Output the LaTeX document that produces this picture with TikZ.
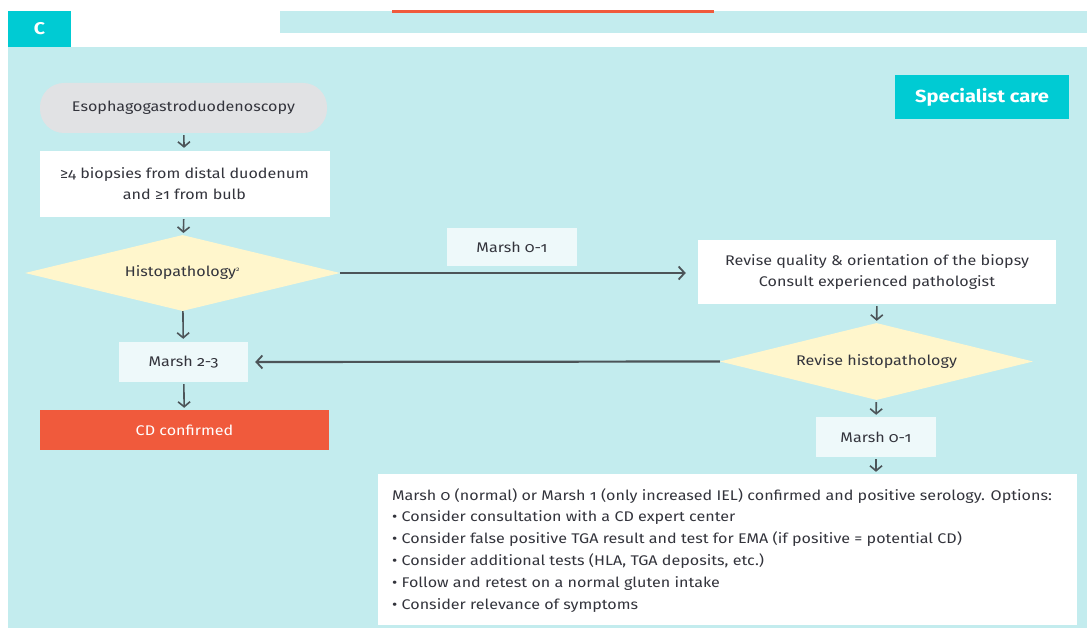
\documentclass[tikz,border=0pt]{standalone}
\usepackage{fontspec}
\setmainfont{Fira Sans}[Numbers=OldStyle,FakeStretch=1.15]
\usetikzlibrary{arrows.meta,shapes.geometric}
\definecolor{bgc}{HTML}{C3ECEE}
\definecolor{tealc}{HTML}{00CBD3}
\definecolor{pillc}{HTML}{E1E2E4}
\definecolor{diac}{HTML}{FFF6CC}
\definecolor{marshc}{HTML}{EEF9FA}
\definecolor{redc}{HTML}{F05A3C}
\definecolor{txtc}{HTML}{33343C}
\definecolor{arrc}{HTML}{4C5458}
\tikzset{
  txt/.style={font=\fontsize{14}{21}\selectfont, text=txtc, align=center, inner sep=0pt},
  pill/.style={txt, fill=pillc, rounded corners=24pt},
  whitebox/.style={txt, fill=white},
  marshbox/.style={txt, fill=marshc},
  redbox/.style={txt, fill=redc, text=white},
  dia/.style={txt, diamond, fill=diac, inner sep=0pt},
  arr/.style={draw=arrc, line width=1.6pt, -{Straight Barb[length=5pt,width=12pt,line width=1.6pt]}},
  longarr/.style={draw=arrc, line width=2.2pt, -{Straight Barb[length=6pt,width=13pt,line width=1.8pt]}},
}
\begin{document}
\begin{tikzpicture}[x=1pt,y=-1pt]
\useasboundingbox (0,0) rectangle (1087,628);
\fill[white] (0,0) rectangle (1087,628);
% top decorations
\fill[bgc] (280,11) rectangle (1087,33);
\fill[redc] (392,10) rectangle (714,13);
\fill[bgc] (8,47) rectangle (1087,628);
\node[fill=tealc, minimum width=63pt, minimum height=36pt, inner sep=0pt] (cbox) at (39.5,29) {};
\node[font=\fontsize{17}{20}\selectfont\bfseries, text=white] (clab) at (cbox.center) {C};
\node[fill=tealc, minimum width=174pt, minimum height=44pt, inner sep=0pt, text=white, font=\fontsize{17.5}{22}\selectfont\bfseries] (spec) at (982,97) {Specialist care};

% left column
\node[pill, minimum width=287pt, minimum height=50pt] (egd) at (183.5,108) {Esophagogastroduodenoscopy};
\node[whitebox, minimum width=290pt, minimum height=66pt] (biop) at (184.5,184) {≥4 biopsies from distal duodenum\\and ≥1 from bulb};
\node[dia, aspect=4.14, minimum width=315pt, minimum height=76pt] (histo) at (182.5,273) {Histopathology\textsuperscript{\fontsize{6}{6}\selectfont 2}};
\node[marshbox, minimum width=129pt, minimum height=40pt] (m23) at (183.5,362) {Marsh 2-3};
\node[redbox, minimum width=289pt, minimum height=40pt] (cd) at (184.5,430) {CD confirmed};

% right column
\node[marshbox, minimum width=130pt, minimum height=38pt] (m01a) at (512,247) {Marsh 0-1};
\node[whitebox, minimum width=358pt, minimum height=64pt] (rev) at (877,272) {Revise quality \& orientation of the biopsy\\Consult experienced pathologist};
\node[dia, aspect=4.06, minimum width=313pt, minimum height=77pt] (rhist) at (876.5,361.5) {Revise histopathology};
\node[marshbox, minimum width=120pt, minimum height=40pt] (m01b) at (876,437) {Marsh 0-1};
\node[fill=white, minimum width=699pt, minimum height=151pt, inner sep=0pt] (fin) at (727.5,549.5) {};
\node[txt, align=left, anchor=north west, font=\fontsize{14}{21.8}\selectfont] (fintxt) at (392,488) {Marsh 0 (normal) or Marsh 1 (only increased IEL) confirmed and positive serology. Options:\\
• Consider consultation with a CD expert center\\
• Consider false positive TGA result and test for EMA (if positive = potential CD)\\
• Consider additional tests (HLA, TGA deposits, etc.)\\
• Follow and retest on a normal gluten intake\\
• Consider relevance of symptoms};

% connectors
\draw[arr, shorten <=2pt, shorten >=3pt] (egd) -- (biop);
\draw[arr, shorten <=2pt, shorten >=2pt] (biop) -- (histo);
\draw[arr, shorten >=3pt] (histo) -- (m23);
\draw[arr, shorten <=2pt, shorten >=2pt] (m23) -- (cd);
\draw[longarr, shorten >=12pt] (histo.east) -- (rev.west |- histo.east);
\draw[arr, shorten <=2pt, shorten >=2pt] (rev) -- (rhist);
\draw[longarr, shorten >=7pt] (rhist.west) -- (m23.east);
\draw[arr, shorten <=2pt, shorten >=2pt] (rhist) -- (m01b);
\draw[arr, shorten <=2pt, shorten >=2pt] (m01b) -- (m01b |- fin.north);
\end{tikzpicture}
\end{document}
